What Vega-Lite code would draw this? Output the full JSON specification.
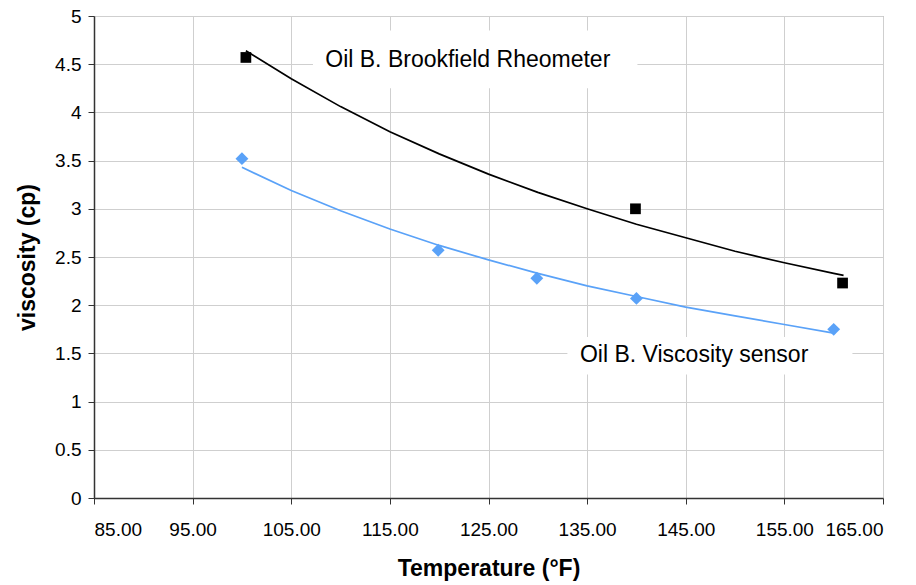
{
  "$schema": "https://vega.github.io/schema/vega-lite/v6.json",
  "width": 789,
  "height": 482,
  "autosize": {"type": "none"},
  "padding": {"left": 94, "top": 16, "right": 33, "bottom": 87},
  "background": "white",
  "config": {
    "font": "Liberation Sans",
    "view": {"stroke": "#9a9a9a", "strokeWidth": 1}
  },
  "datasets": {
    "points": [
      {"series": "Oil B. Brookfield Rheometer", "temp": 100.4, "visc": 4.57},
      {"series": "Oil B. Brookfield Rheometer", "temp": 139.9, "visc": 3.00},
      {"series": "Oil B. Brookfield Rheometer", "temp": 160.9, "visc": 2.23},
      {"series": "Oil B. Viscosity sensor", "temp": 100.0, "visc": 3.52},
      {"series": "Oil B. Viscosity sensor", "temp": 119.9, "visc": 2.57},
      {"series": "Oil B. Viscosity sensor", "temp": 129.9, "visc": 2.28},
      {"series": "Oil B. Viscosity sensor", "temp": 140.0, "visc": 2.07},
      {"series": "Oil B. Viscosity sensor", "temp": 160.0, "visc": 1.75}
    ],
    "trend": [
      {"series": "Oil B. Brookfield Rheometer", "temp": 100.4, "visc": 4.64},
      {"series": "Oil B. Brookfield Rheometer", "temp": 105, "visc": 4.35},
      {"series": "Oil B. Brookfield Rheometer", "temp": 110, "visc": 4.06},
      {"series": "Oil B. Brookfield Rheometer", "temp": 115, "visc": 3.80},
      {"series": "Oil B. Brookfield Rheometer", "temp": 120, "visc": 3.57},
      {"series": "Oil B. Brookfield Rheometer", "temp": 125, "visc": 3.36},
      {"series": "Oil B. Brookfield Rheometer", "temp": 130, "visc": 3.17},
      {"series": "Oil B. Brookfield Rheometer", "temp": 135, "visc": 3.00},
      {"series": "Oil B. Brookfield Rheometer", "temp": 140, "visc": 2.84},
      {"series": "Oil B. Brookfield Rheometer", "temp": 145, "visc": 2.70},
      {"series": "Oil B. Brookfield Rheometer", "temp": 150, "visc": 2.56},
      {"series": "Oil B. Brookfield Rheometer", "temp": 155, "visc": 2.44},
      {"series": "Oil B. Brookfield Rheometer", "temp": 160, "visc": 2.33},
      {"series": "Oil B. Brookfield Rheometer", "temp": 161, "visc": 2.31},
      {"series": "Oil B. Viscosity sensor", "temp": 100, "visc": 3.43},
      {"series": "Oil B. Viscosity sensor", "temp": 105, "visc": 3.19},
      {"series": "Oil B. Viscosity sensor", "temp": 110, "visc": 2.98},
      {"series": "Oil B. Viscosity sensor", "temp": 115, "visc": 2.79},
      {"series": "Oil B. Viscosity sensor", "temp": 120, "visc": 2.62},
      {"series": "Oil B. Viscosity sensor", "temp": 125, "visc": 2.47},
      {"series": "Oil B. Viscosity sensor", "temp": 130, "visc": 2.33},
      {"series": "Oil B. Viscosity sensor", "temp": 135, "visc": 2.20},
      {"series": "Oil B. Viscosity sensor", "temp": 140, "visc": 2.09},
      {"series": "Oil B. Viscosity sensor", "temp": 145, "visc": 1.98},
      {"series": "Oil B. Viscosity sensor", "temp": 150, "visc": 1.89},
      {"series": "Oil B. Viscosity sensor", "temp": 155, "visc": 1.80},
      {"series": "Oil B. Viscosity sensor", "temp": 160, "visc": 1.71}
    ],
    "labels": [
      {"label": "Oil B. Brookfield Rheometer", "temp": 122.9, "visc": 4.54, "x1": 107.2, "x2": 140.1, "y1": 4.25, "y2": 4.85},
      {"label": "Oil B. Viscosity sensor", "temp": 145.85, "visc": 1.48, "x1": 133.0, "x2": 161.9, "y1": 1.28, "y2": 1.67}
    ]
  },
  "layer": [
    {
      "data": {"name": "labels"},
      "mark": {"type": "rect", "fill": "white"},
      "encoding": {
        "x": {
          "field": "x1", "type": "quantitative",
          "scale": {"domain": [85, 165], "nice": false, "zero": false},
          "axis": {
            "values": [85, 95, 105, 115, 125, 135, 145, 155, 165],
            "format": ".2f",
            "title": "Temperature (°F)",
            "titleFontSize": 23,
            "titleFontWeight": "bold",
            "titleColor": "black",
            "titlePadding": 18,
            "labelFontSize": 19,
            "labelColor": "black",
            "labelPadding": 16,
            "tickSize": 6,
            "tickColor": "#333",
            "domainColor": "#333",
            "domainWidth": 1.5,
            "gridColor": "#cfcfcf",
            "grid": true,
            "zindex": 0
          }
        },
        "x2": {"field": "x2"},
        "y": {
          "field": "y1", "type": "quantitative",
          "scale": {"domain": [0, 5], "nice": false},
          "axis": {
            "values": [0, 0.5, 1, 1.5, 2, 2.5, 3, 3.5, 4, 4.5, 5],
            "format": "~g",
            "title": "viscosity (cp)",
            "titleFontSize": 23,
            "titleFontWeight": "bold",
            "titleColor": "black",
            "titlePadding": 15,
            "labelFontSize": 19,
            "labelColor": "black",
            "labelPadding": 7,
            "tickSize": 6,
            "tickColor": "#333",
            "domainColor": "#333",
            "domainWidth": 1.5,
            "gridColor": "#cfcfcf",
            "grid": true,
            "zindex": 0
          }
        },
        "y2": {"field": "y2"}
      }
    },
    {
      "data": {"name": "trend"},
      "mark": {"type": "line", "strokeWidth": 1.7},
      "encoding": {
        "x": {"field": "temp", "type": "quantitative"},
        "y": {"field": "visc", "type": "quantitative"},
        "color": {
          "field": "series", "type": "nominal",
          "scale": {"domain": ["Oil B. Brookfield Rheometer", "Oil B. Viscosity sensor"], "range": ["#000000", "#5aa2f8"]},
          "legend": null
        },
        "order": {"field": "temp", "type": "quantitative"}
      }
    },
    {
      "data": {"name": "points"},
      "mark": {"type": "point", "filled": true, "opacity": 1},
      "encoding": {
        "x": {"field": "temp", "type": "quantitative"},
        "y": {"field": "visc", "type": "quantitative"},
        "color": {
          "field": "series", "type": "nominal",
          "scale": {"domain": ["Oil B. Brookfield Rheometer", "Oil B. Viscosity sensor"], "range": ["#000000", "#5aa2f8"]},
          "legend": null
        },
        "shape": {
          "field": "series", "type": "nominal",
          "scale": {"domain": ["Oil B. Brookfield Rheometer", "Oil B. Viscosity sensor"], "range": ["square", "diamond"]},
          "legend": null
        },
        "size": {
          "field": "series", "type": "nominal",
          "scale": {"domain": ["Oil B. Brookfield Rheometer", "Oil B. Viscosity sensor"], "range": [115, 165]},
          "legend": null
        }
      }
    },
    {
      "data": {"name": "labels"},
      "mark": {"type": "text", "fontSize": 23, "align": "center", "baseline": "middle", "color": "black"},
      "encoding": {
        "x": {"field": "temp", "type": "quantitative"},
        "y": {"field": "visc", "type": "quantitative"},
        "text": {"field": "label"}
      }
    }
  ]
}
